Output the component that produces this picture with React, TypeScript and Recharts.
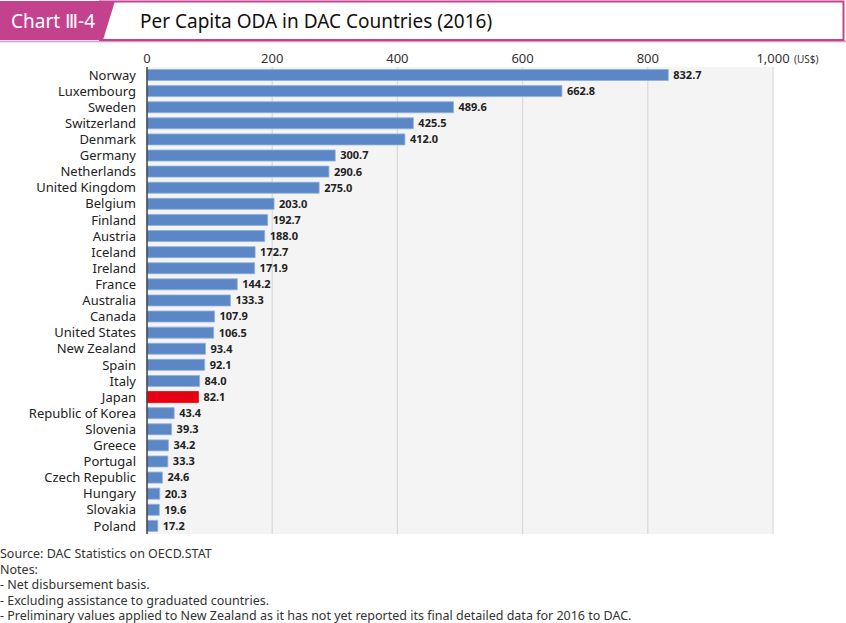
import React from "react";
import {
  BarChart,
  Bar,
  XAxis,
  YAxis,
  CartesianGrid,
  Cell,
  LabelList,
} from "recharts";

const countries = [
  "Norway", "Luxembourg", "Sweden", "Switzerland", "Denmark", "Germany",
  "Netherlands", "United Kingdom", "Belgium", "Finland", "Austria", "Iceland",
  "Ireland", "France", "Australia", "Canada", "United States", "New Zealand",
  "Spain", "Italy", "Japan", "Republic of Korea", "Slovenia", "Greece",
  "Portugal", "Czech Republic", "Hungary", "Slovakia", "Poland",
];
const perCapita = [
  832.7, 662.8, 489.6, 425.5, 412.0, 300.7, 290.6, 275.0, 203.0, 192.7, 188.0,
  172.7, 171.9, 144.2, 133.3, 107.9, 106.5, 93.4, 92.1, 84.0, 82.1, 43.4, 39.3,
  34.2, 33.3, 24.6, 20.3, 19.6, 17.2,
];
const xTicks = [0, 200, 400, 600, 800, 1000];
const highlight = "Japan";
const notes = [
  "Source: DAC Statistics on OECD.STAT",
  "Notes:",
  "- Net disbursement basis.",
  "- Excluding assistance to graduated countries.",
  "- Preliminary values applied to New Zealand as it has not yet reported its final detailed data for 2016 to DAC.",
];

const FONT = '"Noto Sans", "Open Sans", sans-serif';
const PINK = "#c4428d";
const BLUE = "#5b87c6";
const RED = "#e60012";

const rows = countries.map((c, i) => ({ country: c, value: perCapita[i] }));

function TopTick(props: any) {
  const { x, y, payload } = props;
  const v = Number(payload.value);
  const label = v.toLocaleString("en-US");
  return (
    <g>
      <text x={x} y={y} textAnchor="middle" fontSize={13} fill="#333" fontFamily={FONT}>
        {label}
      </text>
      {v === 1000 && (
        <text x={x + 21} y={y} textAnchor="start" fontSize={10} fill="#333" fontFamily={FONT}>
          (US$)
        </text>
      )}
    </g>
  );
}

export default function App() {
  return (
    <div style={{ position: "absolute", left: 0, top: 0, width: 846, height: 623, background: "#fff", fontFamily: FONT }}>
      <svg width={846} height={44} style={{ position: "absolute", left: 0, top: 0 }}>
        <rect x={100} y={1.5} width={743.5} height={38.5} fill="#fff" stroke={PINK} strokeWidth={2} />
        <line x1={0} y1={41.5} x2={846} y2={41.5} stroke={PINK} strokeWidth={1.5} opacity={0.55} />
        <polygon points="0,1 115,1 103,40 0,40" fill={PINK} />
        <text x={11} y={28} fill="#fff" fontSize={19} fontFamily={FONT}>Chart Ⅲ-4</text>
        <text x={140} y={28} fill="#111" fontSize={19} fontFamily={FONT}>
          Per Capita ODA in DAC Countries (2016)
        </text>
      </svg>
      <div style={{ position: "absolute", left: 0, top: 0 }}>
        <BarChart
          width={846}
          height={537}
          data={rows}
          layout="vertical"
          margin={{ top: 44, right: 73, bottom: 3, left: 0 }}
          barCategoryGap={2.5}
        >
          <CartesianGrid horizontal={false} fill="#f4f4f4" stroke="#d9d9d9" strokeWidth={1.2} />
          <XAxis
            type="number"
            orientation="top"
            domain={[0, 1000]}
            ticks={xTicks}
            axisLine={false}
            tickLine={false}
            tickSize={0}
            height={23}
            tick={<TopTick />}
            tickMargin={4}
          />
          <YAxis
            type="category"
            dataKey="country"
            width={147}
            axisLine={{ stroke: "#444", strokeWidth: 1.5 }}
            tickLine={false}
            tickMargin={5}
            interval={0}
            tick={{ fontSize: 13, fill: "#222", fontFamily: FONT }}
          />
          <Bar dataKey="value" isAnimationActive={false} strokeWidth={0.8}>
            {rows.map(r => (
              <Cell key={r.country} fill={r.country === highlight ? RED : BLUE} stroke={r.country === highlight ? RED : "#8fb0dc"} />
            ))}
            <LabelList
              dataKey="value"
              position="right"
              offset={5}
              formatter={(v: any) => Number(v).toFixed(1)}
              style={{ fontSize: 11, fontWeight: 700, fill: "#222", fontFamily: FONT }}
            />
          </Bar>
        </BarChart>
      </div>
      <div style={{ position: "absolute", left: 0, top: 546, fontSize: 12.5, lineHeight: "15.5px", color: "#333" }}>
        {notes.map(n => (
          <div key={n}>{n}</div>
        ))}
      </div>
    </div>
  );
}
